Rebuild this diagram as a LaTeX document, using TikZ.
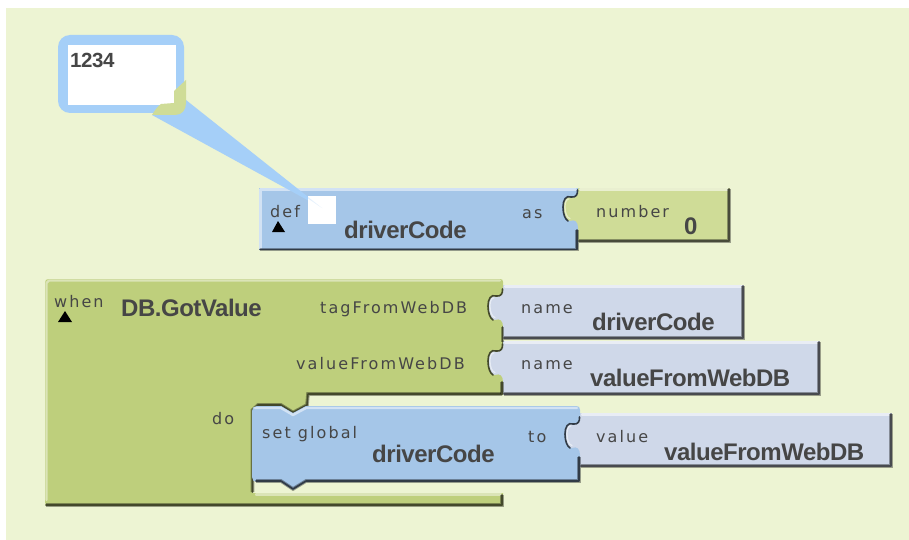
\documentclass[tikz,border=0pt]{standalone}
\usepackage{fontspec}
\setmainfont{Liberation Sans}
\newfontfamily\smallfont[LetterSpace=13]{DejaVu Sans}
\newfontfamily\boldfont[LetterSpace=-2]{Liberation Sans Bold}
\definecolor{bgc}{RGB}{237,244,211}
\definecolor{bluec}{RGB}{165,198,232}
\definecolor{greenc}{RGB}{190,207,124}
\definecolor{numc}{RGB}{207,220,151}
\definecolor{namec}{RGB}{207,216,233}
\definecolor{bubblec}{RGB}{165,207,248}
\definecolor{txtc}{RGB}{70,70,70}
\tikzset{
  x=1pt,y=-1pt,
  small/.style={font=\smallfont\fontsize{16}{18}\selectfont,text=txtc,inner sep=0pt,anchor=base west},
  big/.style={font=\boldfont\fontsize{24}{26}\selectfont,text=txtc,inner sep=0pt,anchor=base west},
  hi/.style={line width=2.4pt,line cap=round,line join=round},
  lo/.style={line width=1.6pt,line cap=round,line join=round,preaction={draw,line width=3.6pt,opacity=.35}},
}
% socket in a right edge, going downwards; #1 = x of edge, #2 = y centre
\newcommand{\sockdown}[2]{
  -- (#1,#2-20) .. controls (#1,#2-14) and (#1-2,#2-10) .. (#1-7,#2-11)
  .. controls (#1-12,#2-13) and (#1-15,#2-8) .. (#1-15,#2-1)
  .. controls (#1-15,#2+7) and (#1-12,#2+14) .. (#1-8,#2+13)
  .. controls (#1-3,#2+11) and (#1,#2+14) .. (#1,#2+20)
}
% dark rim of a socket and soft light rim of the tab in it
\newcommand{\sockrim}[4]{
  \draw[line width=1.2pt,#4,line cap=round] (#1-9,#2-9) .. controls (#1-12,#2-9) and (#1-13,#2-5) .. (#1-13,#2-1)
     .. controls (#1-13,#2+5) and (#1-11,#2+10) .. (#1-8,#2+10.5);
  \draw[line width=1.6pt,#3,line cap=round] (#1-.5,#2-18) .. controls (#1,#2-14) and (#1-2,#2-10) .. (#1-7,#2-11)
  .. controls (#1-12,#2-13) and (#1-15,#2-8) .. (#1-15,#2-1)
  .. controls (#1-15,#2+6) and (#1-13,#2+11) .. (#1-10,#2+13);
}
% value block: x0,x1,y0,y1,colour (left part hidden under the parent block)
\newcommand{\valblock}[5]{
  \fill[#5] (#1-18,#3) rectangle (#2,#4);
  \draw[hi,#5!45!white] (#1+2,#3+1.5) -- (#2-2,#3+1.5);
  \draw[lo,#5!30!black!85!gray] (#2-1,#3+1) -- (#2-1,#4-1) -- (#1+1,#4-1);
}
\begin{document}
\begin{tikzpicture}
\useasboundingbox (0,0) rectangle (909,540);
\fill[white] (0,0) rectangle (909,540);
\fill[bgc] (6,8) rectangle (909,540);

% ---------- value blocks ----------
\valblock{578}{730}{188}{242}{numc}
\valblock{503}{744}{285}{339}{namec}
\valblock{503}{820}{341}{395}{namec}
\valblock{580}{892}{413}{467}{namec}

% ---------- when block ----------
\fill[greenc] (45,283) .. controls (45,280) and (46,279) .. (49,279) -- (500,279)
  .. controls (502,279) and (503,280) .. (503,282)
  \sockdown{503}{307} \sockdown{503}{362} -- (503,395) -- (307,395) -- (307,406)
  -- (306,406) -- (293,413) -- (281,406) -- (257,406)
  .. controls (254,406) and (252,408) .. (252,411) -- (252,493) -- (503,493) -- (503,506) -- (49,506)
  .. controls (46,506) and (45,505) .. (45,502) -- cycle;
\draw[hi,greenc!55!white] (46.5,500) -- (46.5,283) -- (49,280.5) -- (500,280.5);
\draw[hi,greenc!55!white] (256,494.5) -- (501,494.5);
\draw[lo,greenc!35!black] (46,505) -- (502,505) -- (502,495);
\draw[lo,greenc!35!black] (502,394) -- (308,394) -- (307,405) -- (293,412.5) -- (281,405) -- (258,405) -- (252.5,410) -- (252.5,492);
\draw[lo,greenc!35!black] (502.5,327) -- (502.5,342);
\sockrim{503}{307}{greenc!35!black}{namec!50!white}
\sockrim{503}{362}{greenc!35!black}{namec!50!white}
\draw[lo,greenc!35!black] (502,382) -- (502,394);

% ---------- def block ----------
\fill[bluec] (259,188) -- (578,188) \sockdown{578}{208} -- (578,247) .. controls (578,249) and (577,250) .. (575,250) -- (259,250) -- cycle;
\draw[hi,bluec!50!white] (260.5,248) -- (260.5,189.5) -- (576,189.5);
\draw[lo,bluec!30!black] (260,249.5) -- (577,249.5) -- (577,230);
\sockrim{578}{208}{bluec!30!black}{numc!50!white}

% ---------- set global block ----------
\fill[bluec] (257,406) -- (281,406) -- (293,413) -- (306,406) -- (576,406) .. controls (579,406) and (580,407) .. (580,410)
  \sockdown{580}{435} -- (580,478) .. controls (580,481) and (579,482) .. (576,482) -- (306,482) -- (293,490) -- (281,482) -- (257,482)
  .. controls (254,482) and (252,480) .. (252,477) -- (252,411) .. controls (252,408) and (254,406) .. (257,406) -- cycle;
\draw[hi,bluec!50!white] (255,408) -- (281,408) -- (293,415) -- (306,408) -- (577,408);
\draw[lo,bluec!30!black] (256,481) -- (281,481) -- (293,489) -- (306,481) -- (579,481) -- (579,457);
\sockrim{580}{435}{bluec!30!black}{namec!50!white}

% ---------- comment balloon ----------
\fill[bubblec] (152,115) -- (186,100) -- (322,208) -- cycle;
\fill[white] (308,196) rectangle (336,224);
\fill[bubblec,opacity=.3] (308,198.5) -- (322,208) -- (308,197) -- cycle;
\fill[bubblec,rounded corners=12pt] (58,35) rectangle (184,113);
\fill[white] (68,45) rectangle (176,105);
\fill[numc] (186,80) -- (186,103) .. controls (186,110) and (182,115) .. (175,115)
  -- (152,115) .. controls (155,110) and (158,106) .. (161,104) -- (174,103) -- (174,91) -- cycle;

% ---------- triangles ----------
\fill[black] (278,221) -- (285,232) -- (272,232) -- cycle;
\fill[black] (65,311) -- (72,322) -- (58,322) -- cycle;

% ---------- text ----------
\node[font=\boldfont\fontsize{20.5}{22}\selectfont,text=txtc,inner sep=0pt,anchor=base west] (note) at (70,68) {1234};
\node[small] (deflabel) at (270,217) {def};
\node[big] (defname) at (344,238) {driverCode};
\node[small] (aslabel) at (522,218) {as};
\node[small] (numlabel) at (596,217) {number};
\node[big] (numval) at (684,234) {0};
\node[small] (whenlabel) at (54,307) {when};
\node[big] (gotvalue) at (121,316) {DB.GotValue};
\node[small] (tag) at (320,313) {tagFromWebDB};
\node[small] (val) at (296,369) {valueFromWebDB};
\node[small] (nameA) at (521,313) {name};
\node[big] (nameAv) at (592,330) {driverCode};
\node[big] (nameBv) at (590,386) {valueFromWebDB};
\node[small] (nameB) at (521,369) {name};
\node[small] (dolabel) at (212,424) {do};
\node[small] (setlabel) at (262,438) {set global};
\node[big] (setname) at (372,462) {driverCode};
\node[small] (tolabel) at (528,442) {to};
\node[small] (vallabel) at (596,442) {value};
\node[big] (valname) at (664,460) {valueFromWebDB};
\end{tikzpicture}
\end{document}
